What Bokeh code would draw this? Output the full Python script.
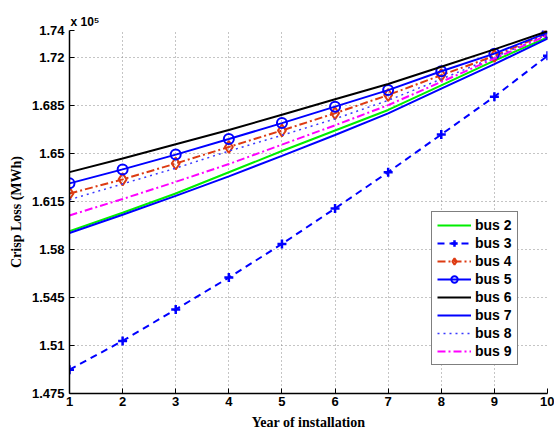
from bokeh.plotting import figure
from bokeh.models import Range1d, FixedTicker, Legend, LegendItem, CustomJSTickFormatter
from bokeh.embed import file_html
from bokeh.resources import INLINE

years = [1, 2, 3, 4, 5, 6, 7, 8, 9, 10]
# Crisp loss values, in units of 1e5 MWh
bus2 = [1.5935, 1.6070, 1.6210, 1.6365, 1.6520, 1.6670, 1.6820, 1.7000, 1.7180, 1.7350]
bus3 = [1.4924, 1.5134, 1.5364, 1.5596, 1.5842, 1.6101, 1.6366, 1.6641, 1.6917, 1.7215]
bus4 = [1.6210, 1.6313, 1.6429, 1.6550, 1.6670, 1.6796, 1.6929, 1.7074, 1.7214, 1.7380]
bus5 = [1.6284, 1.6386, 1.6494, 1.6608, 1.6724, 1.6844, 1.6965, 1.7103, 1.7231, 1.7385]
bus6 = [1.6366, 1.6465, 1.6570, 1.6673, 1.6785, 1.6898, 1.7009, 1.7135, 1.7262, 1.7395]
bus7 = [1.5922, 1.6055, 1.6193, 1.6335, 1.6485, 1.6637, 1.6795, 1.6975, 1.7155, 1.7340]
bus8 = [1.6165, 1.6280, 1.6395, 1.6520, 1.6635, 1.6755, 1.6890, 1.7045, 1.7205, 1.7370]
bus9 = [1.6050, 1.6170, 1.6295, 1.6425, 1.6567, 1.6708, 1.6855, 1.7025, 1.7195, 1.7365]

x_ticks = [1, 2, 3, 4, 5, 6, 7, 8, 9, 10]
y_ticks = [1.475, 1.51, 1.545, 1.58, 1.615, 1.65, 1.685, 1.72, 1.74]

p = figure(width=554, height=432, output_backend="svg", toolbar_location=None,
           x_range=Range1d(1, 10), y_range=Range1d(1.475, 1.74),
           min_border_left=69, min_border_right=7, min_border_top=30, min_border_bottom=37)
p.outline_line_color = None
p.background_fill_color = "white"
p.border_fill_color = "white"

p.title.text = "x 10\u2075"
p.title.align = "left"
p.title.offset = 1
p.title.standoff = 4
p.title.text_font = "Liberation Sans"
p.title.text_font_style = "bold"
p.title.text_font_size = "12px"
p.title.text_color = "black"

for ax in (p.xaxis[0], p.yaxis[0]):
    ax.axis_line_color = "black"
    ax.axis_line_width = 1.5
    ax.major_tick_in = 5
    ax.major_tick_out = 0
    ax.minor_tick_in = 0
    ax.minor_tick_out = 0
    ax.major_tick_line_color = "black"
    ax.major_label_text_font = "Liberation Sans"
    ax.major_label_text_font_style = "bold"
    ax.major_label_text_font_size = "13px"
    ax.major_label_text_color = "black"
    ax.axis_label_text_font = "Liberation Serif"
    ax.axis_label_text_font_style = "bold"
    ax.axis_label_text_font_size = "14px"
    ax.axis_label_text_color = "black"

p.xaxis.ticker = FixedTicker(ticks=x_ticks)
p.yaxis.ticker = FixedTicker(ticks=y_ticks)
p.yaxis.formatter = CustomJSTickFormatter(code="return String(parseFloat(tick.toFixed(3)));")
p.xaxis.axis_label = "Year of installation"
p.yaxis.axis_label = "Crisp Loss (MWh)"
p.xaxis.major_label_standoff = 3
p.xaxis.axis_label_standoff = 6
p.yaxis.major_label_standoff = 5
p.yaxis.axis_label_standoff = 5

p.xgrid.ticker = FixedTicker(ticks=x_ticks)
p.ygrid.ticker = FixedTicker(ticks=y_ticks)
for g in (p.xgrid[0], p.ygrid[0]):
    g.grid_line_color = "#8a8a8a"
    g.grid_line_dash = "1 3"
    g.grid_line_width = 1

items = []
r2 = p.line(years, bus2, line_color="#00ee00", line_width=2)
items.append(LegendItem(label="bus 2", renderers=[r2]))

r3 = p.line(years, bus3, line_color="#0000ff", line_width=2, line_dash="7 5")
m3 = p.scatter(years, bus3, marker="cross", size=9, line_color="#0000ff", line_width=2.5)
items.append(LegendItem(label="bus 3", renderers=[r3, m3]))

r4 = p.line(years, bus4, line_color="#dd3b12", line_width=2, line_dash="8 3 2 3")
m4 = p.scatter(years, bus4, marker="diamond", size=12, line_color="#dd3b12", fill_color=None, line_width=2)
items.append(LegendItem(label="bus 4", renderers=[r4, m4]))

r5 = p.line(years, bus5, line_color="#0000ff", line_width=2)
m5 = p.scatter(years, bus5, marker="circle", size=10, line_color="#0000ff", fill_color=None, line_width=2)
items.append(LegendItem(label="bus 5", renderers=[r5, m5]))

r6 = p.line(years, bus6, line_color="black", line_width=2)
items.append(LegendItem(label="bus 6", renderers=[r6]))

r7 = p.line(years, bus7, line_color="#0000ff", line_width=2)
items.append(LegendItem(label="bus 7", renderers=[r7]))

r8 = p.line(years, bus8, line_color="#3a3aff", line_width=1.5, line_dash="2 4")
items.append(LegendItem(label="bus 8", renderers=[r8]))

r9 = p.line(years, bus9, line_color="#ff00ff", line_width=2, line_dash="8 3 2 3")
items.append(LegendItem(label="bus 9", renderers=[r9]))

legend = Legend(items=items, location=(362, 28))
legend.border_line_color = "black"
legend.border_line_width = 1.5
legend.background_fill_color = "white"
legend.background_fill_alpha = 1
legend.label_text_font = "Liberation Sans"
legend.label_text_font_style = "bold"
legend.label_text_font_size = "14px"
legend.label_text_color = "black"
legend.label_width = 0
legend.glyph_width = 34
legend.glyph_height = 16
legend.label_height = 16
legend.spacing = 2
legend.padding = 5
legend.label_standoff = 4
legend.margin = 0
p.add_layout(legend, "center")

open("out.html", "w").write(file_html(p, INLINE))
